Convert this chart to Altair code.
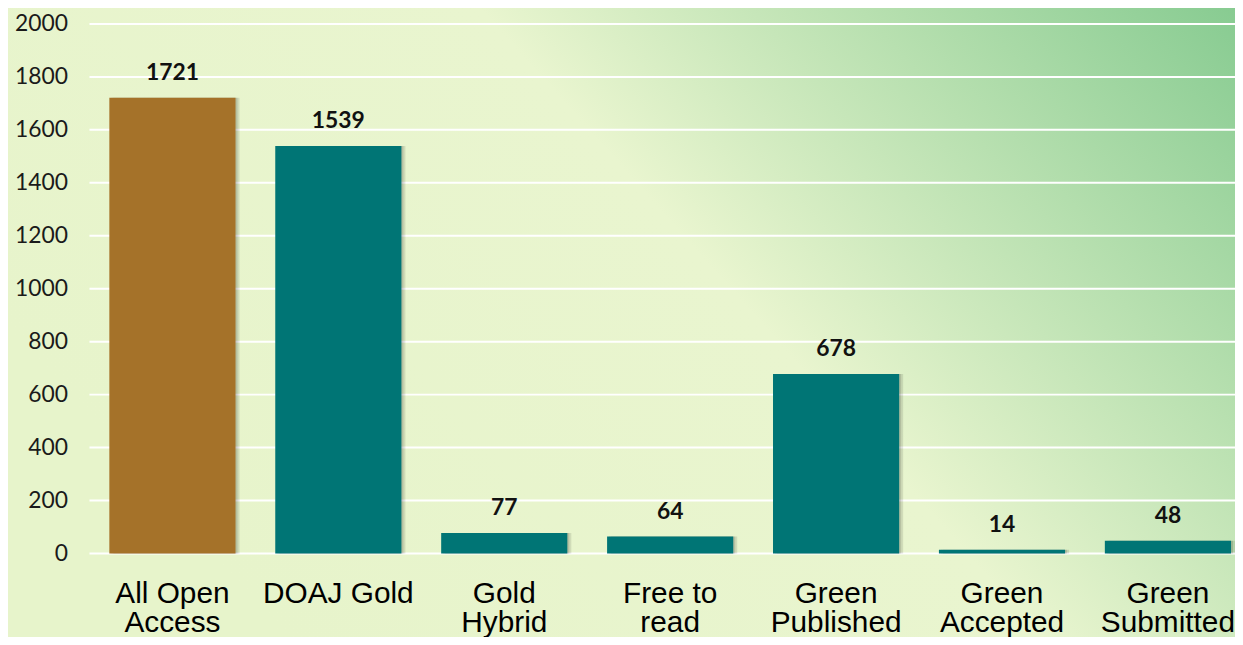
import altair as alt
import pandas as pd

categories = ["All Open|Access", "DOAJ Gold", "Gold|Hybrid", "Free to|read",
              "Green|Published", "Green|Accepted", "Green|Submitted"]
values = [1721, 1539, 77, 64, 678, 14, 48]
bar_colors = ["#A57229", "#007575", "#007575", "#007575", "#007575", "#007575", "#007575"]
y_ticks = [0, 200, 400, 600, 800, 1000, 1200, 1400, 1600, 1800, 2000]

df = pd.DataFrame({"cat": categories, "value": values})
ticks_df = pd.DataFrame({"t": y_ticks})
bg_df = pd.DataFrame({"a": [0]})

x_scale = alt.Scale(domain=categories, range=[0, 1169], paddingInner=0.2395, paddingOuter=0.1198)
y_scale = alt.Scale(domain=[0, 2000], nice=False)

x_axis = alt.Axis(
    labelExpr="split(datum.label, '|')", labelAngle=0, domain=False, ticks=False, grid=False,
    labelPadding=25, labelFontSize=30, labelLineHeight=30, labelFont="Liberation Sans",
    labelColor="#000000", title=None, labelOverlap=False, labelLimit=0, labelBound=False,
    zindex=1,
)
y_axis = alt.Axis(
    values=y_ticks, format="d", grid=False, domain=False, ticks=False, labelPadding=22,
    labelFontSize=23, labelFont="Lato", labelColor="#1a1a1a", title=None, zindex=1,
)

def X():
    return alt.X("cat:N", scale=x_scale, sort=categories, axis=x_axis, title=None)

def Y(field):
    return alt.Y(field, scale=y_scale, axis=y_axis, title=None)

bg = alt.Chart(bg_df).mark_rect(
    color=alt.Gradient(
        gradient="linear",
        stops=[
            alt.GradientStop(color="#E7F4CB", offset=0),
            alt.GradientStop(color="#E9F5CF", offset=0.5),
            alt.GradientStop(color="#87CB91", offset=1),
        ],
        x1=0, x2=1, y1=0.486, y2=0.013,
    )
).encode(x=alt.value(-90), x2=alt.value(1160), y=alt.value(-22), y2=alt.value(640))

grid = alt.Chart(ticks_df).mark_rule(color="white", strokeWidth=2).encode(
    y=Y("t:Q"),
    x=alt.value(0), x2=alt.value(1160),
)

shadow1 = alt.Chart(df).mark_bar(color="#000000", opacity=0.10, xOffset=4).encode(
    x=X(), y=Y("value:Q"))
shadow2 = alt.Chart(df).mark_bar(color="#000000", opacity=0.12, xOffset=2).encode(
    x=X(), y=Y("value:Q"))

bars = alt.Chart(df).mark_bar().encode(
    x=X(), y=Y("value:Q"),
    color=alt.Color("cat:N", scale=alt.Scale(domain=categories, range=bar_colors), legend=None),
)

text = alt.Chart(df).mark_text(fontWeight="bold", fontSize=23, font="Lato", baseline="alphabetic",
                               dy=-18, color="#111111").encode(
    x=X(), y=Y("value:Q"),
    text=alt.Text("value:Q"),
)

chart = alt.layer(bg, grid, shadow1, shadow2, bars, text).properties(
    width=1153, height=533,
    autosize=alt.AutoSizeParams(type="none"),
    padding={"left": 82, "top": 14, "right": 0, "bottom": 82},
).configure_view(strokeWidth=0)

chart.save("out.html", embed_options={"renderer": "svg", "actions": False})
